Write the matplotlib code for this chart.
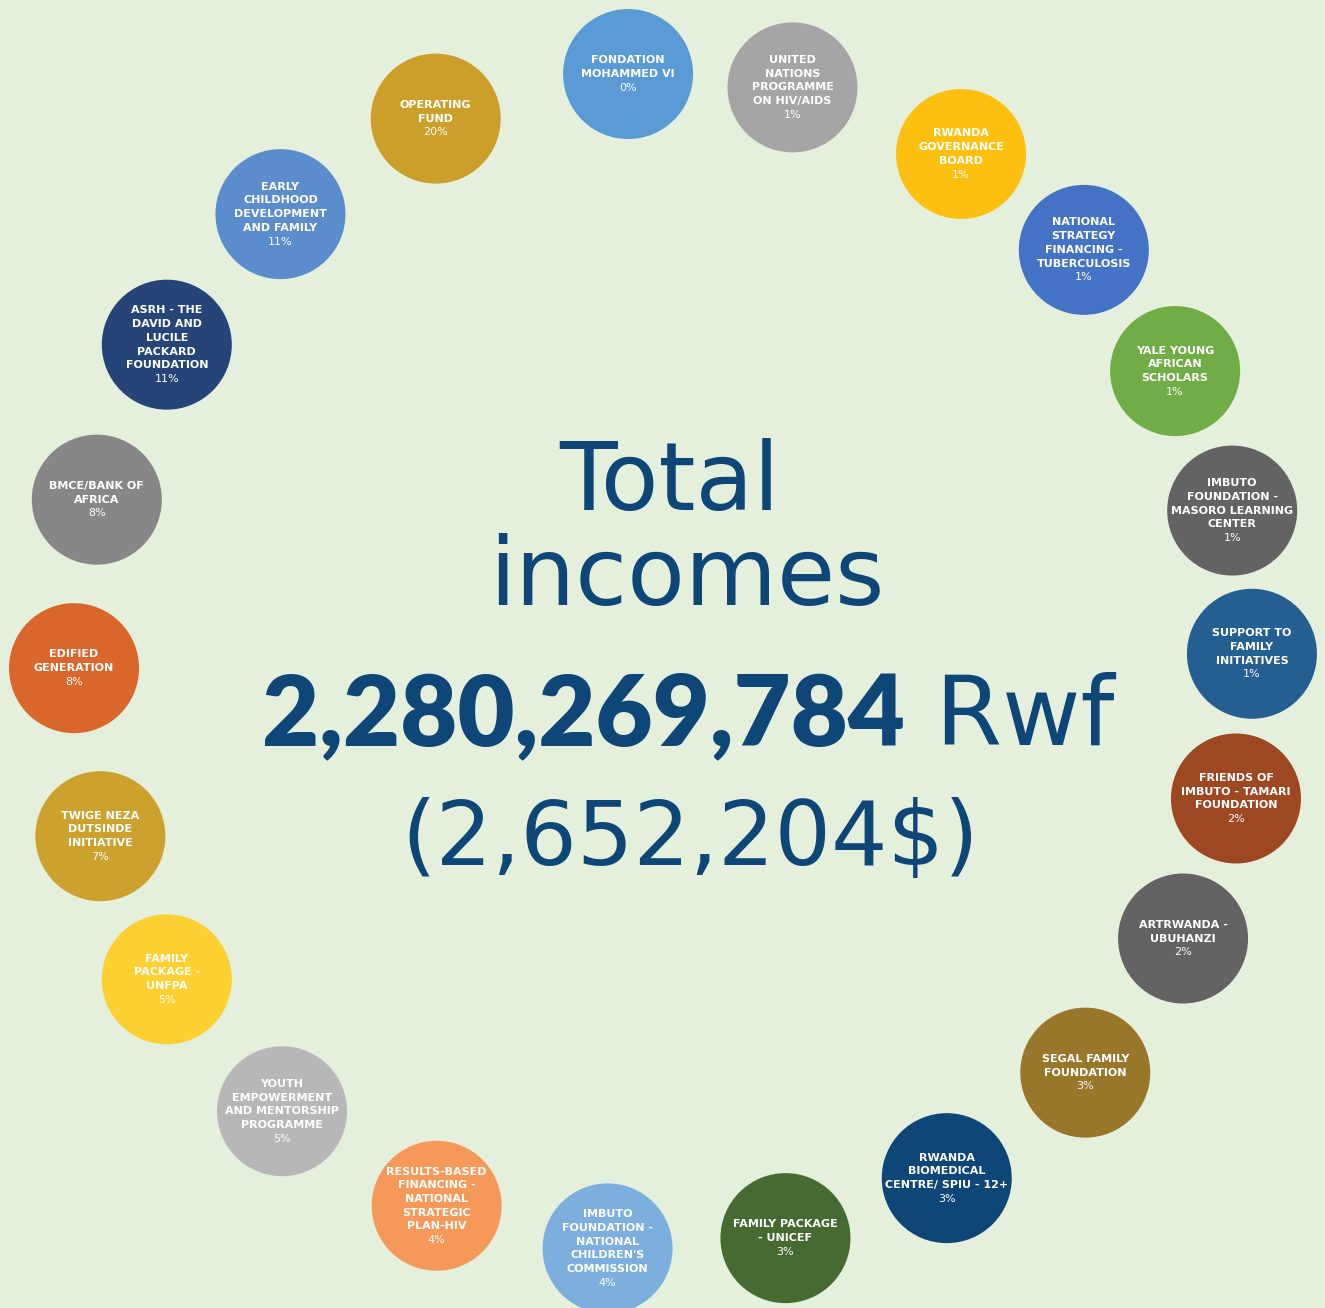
import numpy as np
import matplotlib.pyplot as plt
from matplotlib.patches import Circle

# donors, clockwise starting from the top
donors = [
    "FONDATION\nMOHAMMED VI",
    "UNITED\nNATIONS\nPROGRAMME\nON HIV/AIDS",
    "RWANDA\nGOVERNANCE\nBOARD",
    "NATIONAL\nSTRATEGY\nFINANCING -\nTUBERCULOSIS",
    "YALE YOUNG\nAFRICAN\nSCHOLARS",
    "IMBUTO\nFOUNDATION -\nMASORO LEARNING\nCENTER",
    "SUPPORT TO\nFAMILY\nINITIATIVES",
    "FRIENDS OF\nIMBUTO - TAMARI\nFOUNDATION",
    "ARTRWANDA -\nUBUHANZI",
    "SEGAL FAMILY\nFOUNDATION",
    "RWANDA\nBIOMEDICAL\nCENTRE/ SPIU - 12+",
    "FAMILY PACKAGE\n- UNICEF",
    "IMBUTO\nFOUNDATION -\nNATIONAL\nCHILDREN'S\nCOMMISSION",
    "RESULTS-BASED\nFINANCING -\nNATIONAL\nSTRATEGIC\nPLAN-HIV",
    "YOUTH\nEMPOWERMENT\nAND MENTORSHIP\nPROGRAMME",
    "FAMILY\nPACKAGE -\nUNFPA",
    "TWIGE NEZA\nDUTSINDE\nINITIATIVE",
    "EDIFIED\nGENERATION",
    "BMCE/BANK OF\nAFRICA",
    "ASRH - THE\nDAVID AND\nLUCILE\nPACKARD\nFOUNDATION",
    "EARLY\nCHILDHOOD\nDEVELOPMENT\nAND FAMILY",
    "OPERATING\nFUND",
]
shares = [0, 1, 1, 1, 1, 1, 1, 2, 2, 3, 3, 3, 4, 4, 5, 5, 7, 8, 8, 11, 11, 20]
colors = [
    "#5b9bd5", "#a5a5a5", "#fdc010", "#4472c4", "#70ad47", "#636363",
    "#255e91", "#9e4823", "#636363", "#98762a", "#0f4678", "#466a32",
    "#7cafdd", "#f5995a", "#b7b7b7", "#fdd032", "#cca12e", "#d9662b",
    "#878787", "#264478", "#5b8ccb", "#cc9f2a",
]
total_rwf = "2,280,269,784"
total_usd = "(2,652,204$)"

# layout: angle of each bubble on the ring (degrees, clockwise from top)
ring_angles = [-3.4, 12.7, 30.4, 45.6, 60.4, 75.1, 89.2, 103.4, 118.0, 134.2,
               151.2, 168.0, 185.4, 202.6, 220.3, 237.4, 252.8, 269.4, 286.0,
               302.6, 319.5, 337.3]

BG = "#e5f0dc"
NAVY = "#0f4678"
W, H = 1325, 1308

fig = plt.figure(figsize=(W / 100, H / 100), dpi=100, facecolor=BG)
ax = fig.add_axes([0, 0, 1, 1])
ax.set_xlim(0, W)
ax.set_ylim(H, 0)
ax.set_aspect("equal")
ax.axis("off")
ax.set_facecolor(BG)

cx, cy, ring_r, bubble_r = 663, 662, 589, 65

for name, pct, col, ang in zip(donors, shares, colors, ring_angles):
    a = np.radians(ang)
    x = cx + ring_r * np.sin(a)
    y = cy - ring_r * np.cos(a)
    ax.add_patch(Circle((x, y), bubble_r, facecolor=col, edgecolor="none"))
    lines = name.split("\n")
    n = len(lines) + 1
    lh = 13.7
    top = y - (n - 1) * lh / 2
    for j, ln in enumerate(lines):
        ax.text(x, top + j * lh, ln, ha="center", va="center", color="white",
                fontsize=8, fontweight="bold", family="DejaVu Sans")
    ax.text(x, top + (n - 1) * lh, f"{pct}%", ha="center", va="center",
            color="white", fontsize=8, family="DejaVu Sans")

# central title
ax.text(670, 510, "Total", ha="center", va="baseline", color=NAVY,
        fontsize=68, family="DejaVu Sans")
ax.text(687, 605, "incomes", ha="center", va="baseline", color=NAVY,
        fontsize=68, family="DejaVu Sans")

fig.canvas.draw()
r = fig.canvas.get_renderer()

t1 = ax.text(0, 745, total_rwf, ha="left", va="baseline", color=NAVY,
             fontsize=71, fontweight="heavy", family="Lato")
t2 = ax.text(0, 745, " Rwf", ha="left", va="baseline", color=NAVY,
             fontsize=69, family="DejaVu Sans")
w1 = t1.get_window_extent(r).width
w2 = t2.get_window_extent(r).width
left = 688 - (w1 + w2) / 2
t1.set_x(left)
t2.set_x(left + w1)

ax.text(690, 865, total_usd, ha="center", va="baseline", color=NAVY,
        fontsize=64, family="DejaVu Sans")

fig.savefig("out.png", dpi=100, facecolor=BG)
